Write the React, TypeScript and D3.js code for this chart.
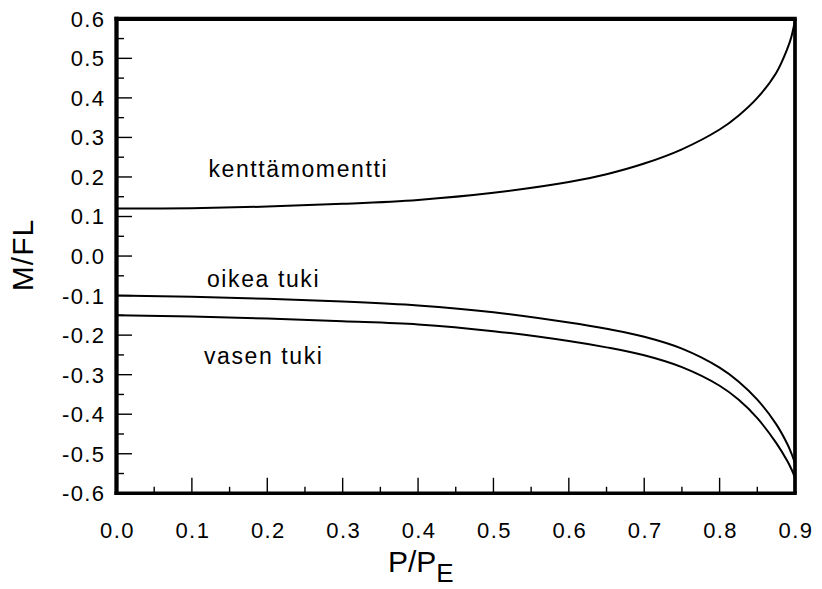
import * as d3 from 'd3';

// load ratio P/PE
const loadRatio = [0, 0.1, 0.2, 0.3, 0.4, 0.5, 0.6, 0.65, 0.7, 0.75, 0.8, 0.825, 0.85, 0.875, 0.89, 0.895, 0.9];
// field moment
const kenttaMomentti = [0.12, 0.121, 0.125, 0.132, 0.142, 0.16, 0.187, 0.207, 0.234, 0.27, 0.32, 0.355, 0.4, 0.463, 0.525, 0.553, 0.595];
// right support moment
const oikeaTuki = [-0.1, -0.103, -0.108, -0.115, -0.125, -0.142, -0.168, -0.184, -0.204, -0.234, -0.282, -0.317, -0.363, -0.425, -0.476, -0.498, -0.524];
// left support moment
const vasenTuki = [-0.15, -0.153, -0.158, -0.165, -0.173, -0.19, -0.215, -0.231, -0.251, -0.281, -0.328, -0.363, -0.41, -0.4725, -0.519, -0.538, -0.56];

const xMajor = [0, 0.1, 0.2, 0.3, 0.4, 0.5, 0.6, 0.7, 0.8, 0.9];
const yMajor = [-0.6, -0.5, -0.4, -0.3, -0.2, -0.1, 0, 0.1, 0.2, 0.3, 0.4, 0.5, 0.6];

const curveLabels = [
  { text: 'kenttämomentti', x: 0.122, y: 0.2 },
  { text: 'oikea tuki', x: 0.12, y: -0.078 },
  { text: 'vasen tuki', x: 0.116, y: -0.273 },
];

const left = 116.5;
const right = 795;
const top = 18.8;
const bottom = 493.3;

const font = '"Liberation Sans", Arial, sans-serif';

export default function App() {
  const x = d3.scaleLinear().domain([0, 0.9]).range([left, right]);
  const y = d3.scaleLinear().domain([-0.6, 0.6]).range([bottom, top]);

  const line = d3
    .line<number>()
    .x((_, i) => x(loadRatio[i]))
    .y((d) => y(d))
    .curve(d3.curveCatmullRom.alpha(0.5));

  const xMinor = d3.range(0.05, 0.9, 0.1);
  const yMinor = d3.range(-0.55, 0.6, 0.1);

  return (
    <svg
      width={822}
      height={589}
      style={{ position: 'absolute', left: 0, top: 0, background: '#fff' }}
    >
      <rect width={822} height={589} fill="#fff" />

      {/* curves */}
      <g fill="none" stroke="#000" strokeWidth={2}>
        <path d={line(kenttaMomentti) || ''} />
        <path d={line(oikeaTuki) || ''} />
        <path d={line(vasenTuki) || ''} />
      </g>

      {/* ticks */}
      <g stroke="#000" strokeWidth={1.4}>
        {yMajor.map((v) => (
          <line key={'ym' + v} x1={left} x2={left + 15.5} y1={y(v)} y2={y(v)} />
        ))}
        {yMinor.map((v) => (
          <line key={'yn' + v} x1={left} x2={left + 7.5} y1={y(v)} y2={y(v)} />
        ))}
        {xMajor.map((v) => (
          <line key={'xm' + v} x1={x(v)} x2={x(v)} y1={bottom} y2={bottom - 15.5} />
        ))}
        {xMinor.map((v) => (
          <line key={'xn' + v} x1={x(v)} x2={x(v)} y1={bottom} y2={bottom - 6.5} />
        ))}
      </g>

      {/* frame */}
      <g stroke="#000">
        <line x1={left} x2={left} y1={top - 2} y2={bottom + 1.7} strokeWidth={4.3} />
        <line x1={left - 2} x2={right + 1.8} y1={top} y2={top} strokeWidth={4.3} />
        <line x1={right} x2={right} y1={top} y2={bottom} strokeWidth={3.7} />
        <line x1={left - 2} x2={right + 1.8} y1={bottom} y2={bottom} strokeWidth={3.4} />
      </g>

      {/* tick labels */}
      <g fontFamily={font} fontSize={22} fill="#000" letterSpacing={1.4}>
        {yMajor.map((v) => (
          <text key={'yl' + v} x={left - 11} y={y(v)} dy="0.36em" textAnchor="end">
            {v.toFixed(1)}
          </text>
        ))}
        {xMajor.map((v) => (
          <text key={'xl' + v} x={x(v) + 1} y={538} textAnchor="middle">
            {v.toFixed(1)}
          </text>
        ))}
      </g>

      {/* curve labels */}
      <g fontFamily={font} fontSize={23} fill="#000" letterSpacing={1.6}>
        {curveLabels.map((d) => (
          <text key={d.text} x={x(d.x)} y={y(d.y)}>
            {d.text}
          </text>
        ))}
      </g>

      {/* axis titles */}
      <text
        transform="translate(33,255) rotate(-90)"
        textAnchor="middle"
        fontFamily={font}
        fontSize={30}
        letterSpacing={1}
      >
        M/FL
      </text>
      <text x={388} y={572} fontFamily={font} fontSize={30}>
        P/P
        <tspan fontSize={26} dy={10}>
          E
        </tspan>
      </text>
    </svg>
  );
}
